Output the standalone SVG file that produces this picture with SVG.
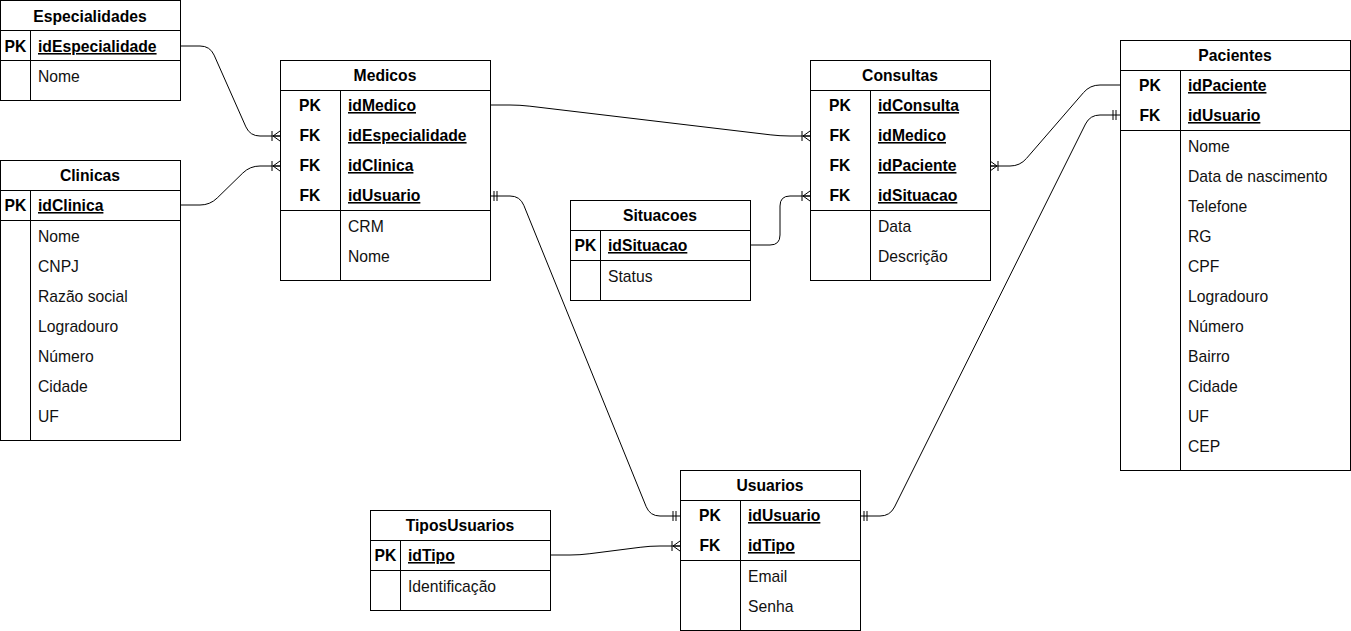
<svg xmlns="http://www.w3.org/2000/svg" width="1351" height="631" viewBox="0 0 1351 631">
<style>
.box{fill:#fff;stroke:#000;stroke-width:1}
.ln{stroke:#000;stroke-width:1;fill:none}
text{font-family:"Liberation Sans",Arial,sans-serif;font-size:15.7px;fill:#000}
.t{font-weight:bold;text-anchor:middle}
.k{font-weight:bold;text-anchor:middle}
.f{font-weight:bold;text-decoration:underline}
.a{fill:#111}
.c{stroke:#000;stroke-width:1;fill:none}
</style>
<defs>
<marker id="many" markerUnits="userSpaceOnUse" markerWidth="12" markerHeight="12" refX="10" refY="6" orient="auto-start-reverse" overflow="visible">
<path d="M2,1 V11 M3,6 L10,1 M3,6 L10,6 M3,6 L10,11" stroke="#000" stroke-width="1" fill="none"/>
</marker>
<marker id="one" markerUnits="userSpaceOnUse" markerWidth="12" markerHeight="12" refX="10" refY="6" orient="auto-start-reverse" overflow="visible">
<path d="M3,1 V11 M6,1 V11" stroke="#000" stroke-width="1" fill="none"/>
</marker>
</defs>
<rect width="1351" height="631" fill="#fff"/>

<g id="connectors">
<path class="c" d="M180,46 L200,46 Q210,46 214.1,55.1 L245.9,126.9 Q250,136 260,136 L280,136" marker-end="url(#many)"/>
<path class="c" d="M180,205 L200,205 Q210,205 217.2,198 L242.8,173 Q250,166 260,166 L280,166" marker-end="url(#many)"/>
<path class="c" d="M490,105 L510,105 Q520,105 529.9,106.2 L770.1,134.8 Q780,136 790,136 L810,136" marker-end="url(#many)"/>
<path class="c" d="M490,196 L510,196 Q520,196 523.8,205.3 L646.2,506.7 Q650,516 660,516 L680,516" marker-start="url(#one)" marker-end="url(#one)"/>
<path class="c" d="M750,245 L770,245 Q780,245 780,235 L780,206 Q780,196 790,196 L810,196" marker-end="url(#many)"/>
<path class="c" d="M990,166 L1010,166 Q1020,166 1026.5,158.4 L1083.5,92.6 Q1090,85 1100,85 L1120,85" marker-start="url(#many)"/>
<path class="c" d="M1120,115 L1100,115 Q1090,115 1085.5,124 L894.5,507 Q890,516 880,516 L860,516" marker-start="url(#one)" marker-end="url(#one)"/>
<path class="c" d="M550,555 L570,555 Q580,555 589.9,553.7 L640.1,547.3 Q650,546 660,546 L680,546" marker-end="url(#many)"/>
</g>

<g id="Especialidades">
<rect class="box" x="0.5" y="0.5" width="180" height="100"/>
<path class="ln" d="M0.5,30.5 H180.5 M0.5,60.5 H180.5 M30.5,30.5 V100.5"/>
<text class="t" x="90" y="22">Especialidades</text>
<text class="k" x="15.5" y="52">PK</text>
<text class="f" x="38" y="52">idEspecialidade</text>
<text class="a" x="38" y="82">Nome</text>
</g>

<g id="Clinicas">
<rect class="box" x="0.5" y="160.5" width="180" height="280"/>
<path class="ln" d="M0.5,190.5 H180.5 M0.5,220.5 H180.5 M30.5,190.5 V440.5"/>
<text class="t" x="90" y="181">Clinicas</text>
<text class="k" x="15.5" y="211">PK</text>
<text class="f" x="38" y="211">idClinica</text>
<text class="a" x="38" y="242">Nome</text>
<text class="a" x="38" y="272">CNPJ</text>
<text class="a" x="38" y="302">Razão social</text>
<text class="a" x="38" y="332">Logradouro</text>
<text class="a" x="38" y="362">Número</text>
<text class="a" x="38" y="392">Cidade</text>
<text class="a" x="38" y="422">UF</text>
</g>

<g id="Medicos">
<rect class="box" x="280.5" y="60.5" width="210" height="220"/>
<path class="ln" d="M280.5,90.5 H490.5 M280.5,210.5 H490.5 M340.5,90.5 V280.5"/>
<text class="t" x="385" y="81">Medicos</text>
<text class="k" x="310" y="111">PK</text>
<text class="f" x="348" y="111">idMedico</text>
<text class="k" x="310" y="141">FK</text>
<text class="f" x="348" y="141">idEspecialidade</text>
<text class="k" x="310" y="171">FK</text>
<text class="f" x="348" y="171">idClinica</text>
<text class="k" x="310" y="201">FK</text>
<text class="f" x="348" y="201">idUsuario</text>
<text class="a" x="348" y="232">CRM</text>
<text class="a" x="348" y="262">Nome</text>
</g>

<g id="Consultas">
<rect class="box" x="810.5" y="60.5" width="180" height="220"/>
<path class="ln" d="M810.5,90.5 H990.5 M810.5,210.5 H990.5 M870.5,90.5 V280.5"/>
<text class="t" x="900" y="81">Consultas</text>
<text class="k" x="840" y="111">PK</text>
<text class="f" x="878" y="111">idConsulta</text>
<text class="k" x="840" y="141">FK</text>
<text class="f" x="878" y="141">idMedico</text>
<text class="k" x="840" y="171">FK</text>
<text class="f" x="878" y="171">idPaciente</text>
<text class="k" x="840" y="201">FK</text>
<text class="f" x="878" y="201">idSituacao</text>
<text class="a" x="878" y="232">Data</text>
<text class="a" x="878" y="262">Descrição</text>
</g>

<g id="Situacoes">
<rect class="box" x="570.5" y="200.5" width="180" height="100"/>
<path class="ln" d="M570.5,230.5 H750.5 M570.5,260.5 H750.5 M600.5,230.5 V300.5"/>
<text class="t" x="660" y="221">Situacoes</text>
<text class="k" x="585.5" y="251">PK</text>
<text class="f" x="608" y="251">idSituacao</text>
<text class="a" x="608" y="282">Status</text>
</g>

<g id="Pacientes">
<rect class="box" x="1120.5" y="40.5" width="230" height="430"/>
<path class="ln" d="M1120.5,70.5 H1350.5 M1120.5,130.5 H1350.5 M1180.5,70.5 V470.5"/>
<text class="t" x="1235" y="61">Pacientes</text>
<text class="k" x="1150" y="91">PK</text>
<text class="f" x="1188" y="91">idPaciente</text>
<text class="k" x="1150" y="121">FK</text>
<text class="f" x="1188" y="121">idUsuario</text>
<text class="a" x="1188" y="152">Nome</text>
<text class="a" x="1188" y="182">Data de nascimento</text>
<text class="a" x="1188" y="212">Telefone</text>
<text class="a" x="1188" y="242">RG</text>
<text class="a" x="1188" y="272">CPF</text>
<text class="a" x="1188" y="302">Logradouro</text>
<text class="a" x="1188" y="332">Número</text>
<text class="a" x="1188" y="362">Bairro</text>
<text class="a" x="1188" y="392">Cidade</text>
<text class="a" x="1188" y="422">UF</text>
<text class="a" x="1188" y="452">CEP</text>
</g>

<g id="Usuarios">
<rect class="box" x="680.5" y="470.5" width="180" height="160"/>
<path class="ln" d="M680.5,500.5 H860.5 M680.5,560.5 H860.5 M740.5,500.5 V630.5"/>
<text class="t" x="770" y="491">Usuarios</text>
<text class="k" x="710" y="521">PK</text>
<text class="f" x="748" y="521">idUsuario</text>
<text class="k" x="710" y="551">FK</text>
<text class="f" x="748" y="551">idTipo</text>
<text class="a" x="748" y="582">Email</text>
<text class="a" x="748" y="612">Senha</text>
</g>

<g id="TiposUsuarios">
<rect class="box" x="370.5" y="510.5" width="180" height="100"/>
<path class="ln" d="M370.5,540.5 H550.5 M370.5,570.5 H550.5 M400.5,540.5 V610.5"/>
<text class="t" x="460" y="531">TiposUsuarios</text>
<text class="k" x="385.5" y="561">PK</text>
<text class="f" x="408" y="561">idTipo</text>
<text class="a" x="408" y="592">Identificação</text>
</g>
</svg>
